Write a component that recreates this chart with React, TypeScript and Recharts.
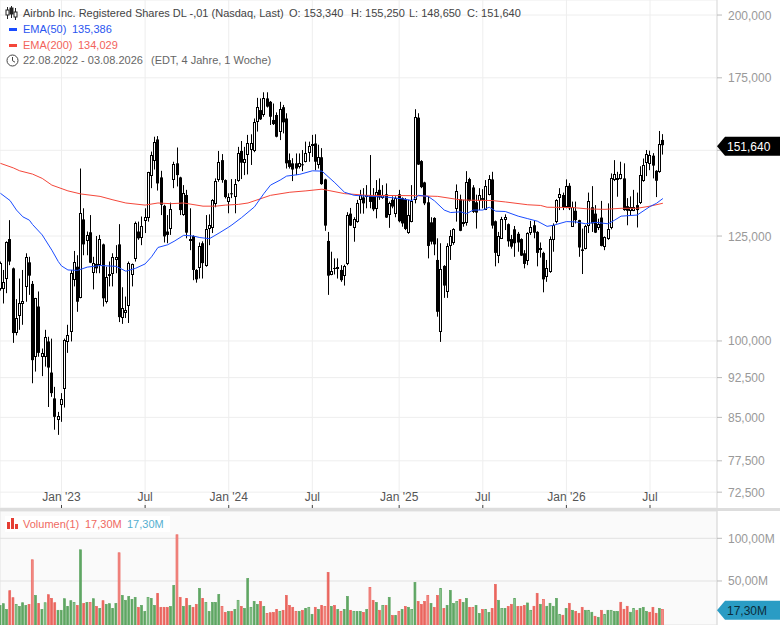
import { Bar, CartesianGrid, ComposedChart, Line, ReferenceDot, XAxis, YAxis } from "recharts";

const opens = [
  111.7, 111.7, 114.0, 124.2, 116.7, 101.7, 105.3, 108.3, 112.1, 118.2,
  112.9, 96.6, 107.6, 96.7, 96.7, 99.9, 93.5, 88.5, 84.6, 87.1,
  90.2, 99.7, 102.0, 114.0, 117.1, 109.7, 129.5, 123.6, 126.0, 115.5,
  117.8, 117.5, 122.8, 108.5, 115.1, 115.2, 118.9, 122.8, 105.0, 106.1,
  107.6, 114.9, 119.0, 126.2, 124.7, 128.9, 129.8, 141.8, 146.8, 153.5,
  141.6, 133.3, 126.2, 126.8, 140.8, 145.9, 141.6, 130.7, 136.4, 123.9,
  125.0, 116.3, 116.9, 123.1, 117.3, 127.0, 127.3, 133.9, 140.8, 146.9,
  140.8, 134.3, 136.9, 135.7, 140.6, 149.8, 145.9, 148.3, 149.9, 149.6,
  159.4, 163.4, 161.5, 167.5, 166.3, 160.0, 161.7, 155.9, 164.4, 160.5,
  146.9, 145.9, 145.9, 144.8, 145.6, 146.4, 149.0, 152.0, 152.2, 145.4,
  147.8, 141.0, 123.7, 115.2, 116.8, 116.5, 116.3, 114.9, 117.7, 131.1,
  127.1, 128.7, 135.0, 135.7, 135.7, 136.2, 136.0, 132.3, 137.9, 135.5,
  136.6, 130.6, 135.0, 131.1, 136.6, 135.5, 135.2, 125.7, 128.9, 135.0,
  160.8, 146.6, 140.1, 134.3, 128.7, 129.9, 118.8, 101.9, 117.3, 111.1,
  122.2, 123.1, 132.6, 135.2, 128.4, 128.7, 141.1, 138.6, 134.3, 134.7,
  135.5, 132.3, 136.4, 141.0, 129.0, 119.6, 124.4, 129.3, 128.2, 124.2,
  126.8, 125.6, 124.2, 120.5, 118.6, 125.9, 127.9, 126.1, 121.6, 120.6,
  114.5, 115.7, 124.0, 128.8, 135.6, 136.4, 132.9, 139.1, 127.5, 131.9,
  129.3, 121.5, 121.7, 127.7, 132.9, 131.1, 127.0, 130.0, 122.2, 124.2,
  127.0, 140.8, 141.0, 141.1, 141.3, 133.2, 131.9, 131.9, 133.5, 134.0,
  140.6, 146.0, 145.8, 148.3, 143.6, 143.2, 153.34,
];
const highs = [
  118.4, 116.3, 123.6, 129.3, 116.9, 109.3, 114.2, 116.3, 120.5, 119.6,
  113.6, 109.6, 111.1, 98.4, 102.4, 100.9, 100.5, 90.7, 86.0, 89.5,
  100.5, 103.5, 116.3, 121.1, 120.0, 144.3, 132.6, 126.2, 130.7, 119.6,
  125.0, 125.3, 123.0, 117.1, 118.4, 120.5, 122.6, 128.2, 112.1, 109.9,
  118.4, 117.9, 128.9, 128.9, 130.3, 132.6, 143.3, 149.6, 154.4, 154.6,
  143.6, 133.6, 130.7, 134.2, 146.4, 150.9, 141.8, 139.3, 137.9, 132.6,
  125.2, 116.5, 123.3, 123.6, 130.7, 130.9, 135.2, 141.3, 149.8, 148.8,
  141.0, 136.9, 141.1, 141.1, 151.1, 153.0, 151.1, 155.0, 155.2, 160.5,
  167.7, 167.5, 169.7, 169.7, 166.6, 165.7, 162.6, 166.3, 165.2, 162.3,
  149.0, 147.5, 149.0, 149.0, 150.1, 152.8, 152.8, 155.0, 155.2, 151.8,
  150.7, 141.2, 126.1, 120.9, 119.2, 119.2, 117.5, 117.6, 131.5, 132.7,
  130.1, 135.0, 137.9, 138.4, 139.3, 148.5, 138.4, 140.8, 141.3, 139.3,
  139.8, 134.5, 136.0, 136.0, 137.9, 135.7, 135.5, 135.0, 139.3, 163.7,
  162.3, 146.9, 140.3, 136.0, 130.1, 130.1, 124.4, 123.1, 117.5, 123.1,
  126.6, 127.1, 139.5, 136.5, 135.0, 143.5, 141.5, 139.3, 136.5, 138.4,
  138.1, 140.8, 142.3, 143.3, 129.2, 126.1, 130.2, 130.9, 128.4, 125.3,
  127.7, 126.1, 124.4, 121.3, 126.0, 129.1, 129.3, 126.3, 123.3, 120.9,
  118.8, 124.9, 128.4, 135.2, 138.4, 137.1, 141.0, 139.9, 134.5, 134.5,
  129.4, 127.0, 128.0, 137.1, 139.0, 133.5, 129.7, 134.7, 124.9, 134.0,
  142.8, 146.9, 143.3, 146.4, 145.9, 135.5, 136.0, 137.9, 137.1, 145.0,
  147.4, 150.1, 149.9, 149.1, 143.8, 156.3, 155.25,
];
const lows = [
  111.3, 108.3, 110.7, 117.5, 99.6, 101.2, 102.4, 103.5, 108.7, 110.3,
  91.4, 93.7, 96.7, 92.8, 94.7, 86.9, 88.8, 82.8, 81.9, 84.2,
  86.8, 97.5, 99.9, 112.3, 106.4, 109.5, 120.0, 120.0, 118.0, 111.6,
  115.5, 115.5, 107.6, 108.3, 112.3, 112.3, 115.5, 104.1, 103.7, 105.0,
  103.9, 112.3, 118.4, 124.0, 122.6, 125.8, 128.9, 138.4, 144.0, 137.7,
  130.7, 123.3, 123.1, 125.3, 138.4, 138.9, 130.7, 130.5, 124.4, 121.3,
  113.8, 113.2, 114.2, 114.2, 117.1, 122.6, 125.8, 132.9, 140.3, 140.0,
  135.4, 131.2, 135.5, 131.2, 140.3, 141.1, 142.3, 142.5, 145.4, 149.4,
  156.1, 160.0, 161.1, 164.3, 158.3, 158.3, 154.2, 153.3, 155.5, 144.3,
  144.3, 140.5, 142.3, 144.3, 143.5, 146.2, 146.4, 147.9, 143.8, 144.3,
  139.4, 126.4, 110.3, 115.0, 115.2, 114.2, 113.4, 112.5, 117.5, 127.7,
  123.5, 128.6, 131.1, 131.1, 132.6, 132.6, 131.8, 129.8, 135.0, 135.3,
  129.9, 127.2, 132.6, 130.1, 128.7, 127.5, 126.6, 125.6, 128.7, 134.0,
  145.4, 138.4, 133.5, 119.2, 122.8, 120.0, 105.3, 99.8, 109.6, 109.6,
  118.8, 122.7, 128.9, 126.3, 127.5, 127.8, 134.5, 131.3, 127.0, 132.1,
  132.6, 132.1, 136.3, 127.0, 117.2, 118.0, 124.2, 126.6, 122.2, 121.7,
  119.6, 120.9, 119.8, 116.7, 117.5, 125.3, 124.4, 117.2, 119.4, 110.9,
  113.4, 115.6, 120.9, 128.4, 132.1, 132.1, 132.6, 132.1, 127.5, 128.4,
  119.6, 115.3, 121.5, 125.8, 126.1, 125.8, 126.6, 122.3, 121.3, 124.0,
  126.8, 140.5, 135.9, 141.0, 131.9, 127.9, 130.7, 131.8, 127.3, 133.8,
  140.3, 142.0, 143.8, 141.3, 135.8, 143.0, 148.65,
];
const closes = [
  118.0, 113.4, 123.4, 118.4, 101.7, 105.0, 108.3, 108.9, 119.6, 114.9,
  96.0, 109.5, 97.5, 97.5, 100.8, 94.5, 89.5, 85.1, 85.3, 88.3,
  100.1, 101.2, 115.6, 118.4, 108.7, 131.4, 122.8, 125.3, 118.1, 118.0,
  116.7, 124.2, 109.5, 114.5, 115.2, 119.5, 119.6, 105.2, 107.2, 106.7,
  118.0, 117.7, 128.4, 124.4, 127.8, 130.1, 143.1, 148.4, 152.8, 139.8,
  133.6, 124.9, 125.3, 132.3, 145.6, 142.3, 132.1, 136.9, 125.9, 124.1,
  116.3, 114.0, 122.4, 118.0, 126.8, 128.1, 135.0, 140.6, 146.2, 140.8,
  135.8, 135.7, 136.8, 139.6, 149.2, 146.1, 147.2, 152.2, 152.2, 159.2,
  164.4, 160.2, 167.5, 164.6, 161.1, 158.6, 154.4, 163.6, 159.2, 145.9,
  144.8, 144.0, 144.3, 146.1, 145.5, 149.2, 151.3, 152.1, 146.4, 147.8,
  139.6, 127.8, 114.9, 116.1, 116.7, 117.1, 113.8, 117.4, 130.6, 127.8,
  129.5, 134.0, 136.4, 134.0, 136.3, 134.4, 132.3, 137.2, 135.7, 136.4,
  130.0, 134.0, 133.1, 135.5, 129.0, 128.4, 126.9, 130.6, 134.7, 160.9,
  145.5, 138.7, 134.0, 122.4, 123.5, 122.8, 106.4, 116.5, 112.5, 122.4,
  124.9, 126.9, 137.7, 126.4, 128.9, 140.3, 134.7, 131.6, 131.4, 136.3,
  135.0, 139.1, 141.0, 127.8, 120.6, 124.9, 129.7, 130.2, 123.6, 122.2,
  123.1, 123.3, 119.9, 117.8, 125.8, 127.5, 125.9, 120.6, 121.8, 114.0,
  116.7, 124.2, 128.1, 135.0, 136.7, 132.9, 139.1, 132.6, 132.9, 129.3,
  122.0, 121.1, 127.7, 134.8, 128.4, 125.9, 128.2, 122.4, 124.7, 127.0,
  141.3, 142.5, 141.3, 142.5, 132.1, 131.9, 133.1, 133.1, 132.1, 142.3,
  145.4, 148.8, 148.6, 145.2, 140.6, 151.9, 151.64,
];
const volumes = [
  22, 24, 17.3, 39.2, 31, 23.2, 20.8, 25.1, 22, 23.2,
  75.4, 33.7, 24.3, 17.3, 25.1, 34.5, 30.2, 25.1, 16.2, 16.2,
  29.8, 20.8, 27.5, 25.5, 22, 87.1, 24.3, 25.5, 25.5, 29.8,
  20.8, 18.5, 27.5, 23.2, 24, 18.5, 24.3, 83.6, 33.7, 27.9,
  32.5, 29, 31.4, 19.7, 22, 15, 31.4, 30.2, 22, 36,
  19.7, 19.7, 19.7, 20.8, 45.4, 104.7, 31.4, 20.8, 30.2, 22,
  19.7, 23.2, 41.9, 30.2, 25.5, 15, 25.5, 25.5, 34.9, 20.8,
  13.8, 15, 15, 17.3, 27.9, 20.8, 18.5, 53.6, 19.7, 26.7,
  23.2, 26.7, 20.8, 12.6, 13.4, 13.8, 17.3, 15, 16.2, 33.7,
  22, 19.7, 15, 15, 16.2, 18.5, 19.7, 11.5, 19.7, 17.3,
  22, 20.8, 60.6, 20.8, 22, 17.3, 15, 17.3, 32.5, 16.2,
  15, 15, 15, 13.8, 17.3, 43.1, 27.9, 25.5, 16.2, 22,
  22, 31.4, 10.3, 10.3, 15, 17.3, 20.8, 19.7, 17.3, 48.9,
  26.7, 23.2, 26.7, 33.7, 24.3, 19.7, 33.7, 41.9, 18.5, 22,
  39.6, 24.3, 26.7, 29, 25.5, 30.2, 19.7, 19.7, 22, 12.6,
  17.3, 17.3, 13.8, 18.5, 46.6, 27.9, 18.5, 18.5, 20.8, 23.2,
  30.2, 20.8, 20.9, 22, 24.8, 16.2, 20.9, 36.1, 23.2, 29,
  20.9, 24.4, 20.9, 30.2, 11.5, 10.4, 18.5, 24.4, 16.2, 15,
  12.7, 19.7, 16.2, 16.2, 13.9, 9.2, 8, 16.2, 11.5, 16.2,
  16.2, 15, 15, 25.6, 17.4, 20.9, 13.9, 18.5, 16.2, 18.5,
  19.7, 15, 13.9, 19.7, 12.7, 18.5, 17.3,
];
// u/d up or down week, capitals are the paler outlined bars
const volumeTones = [
  "u","u","u","d","d","U","u","u","u","d","D","u","d","u","U","d","d","d","u","u",
  "u","u","u","U","d","u","d","u","D","u","d","u","d","u","u","u","u","D","u","u",
  "u","u","u","d","u","u","U","u","u","d","d","d","d","u","u","D","d","u","d","u",
  "d","d","u","d","U","u","u","u","u","D","d","u","d","u","U","d","u","u","U","u",
  "u","d","u","D","d","d","d","U","d","d","d","d","D","u","d","u","U","u","d","u",
  "d","D","d","u","d","u","D","u","u","d","U","u","u","d","u","D","d","u","d","U",
  "d","u","d","u","D","u","d","u","U","u","d","d","d","D","u","d","d","U","d","u",
  "u","u","U","d","u","u","d","D","u","u","d","U","u","d","d","u","U","u","d","d",
  "U","d","d","d","u","U","d","d","u","D","u","u","u","u","U","d","u","d","u","d",
  "d","d","u","U","u","d","u","d","U","u","U","u","u","d","d","d","u","U","d","u",
  "u","u","d","d","d","u","D",
];

const ema50Points = [
  [0, 136.9], [3, 134.8], [5, 132.1], [7, 130.2], [9, 129.3], [10, 128.1], [13, 125.3], [16, 121.3], [18, 118.4],
  [19, 117.3], [21, 116.3], [24, 116.2], [27, 117.0], [31, 117.4], [36, 117.2], [39, 116.0], [42, 116.7], [45, 117.8],
  [47, 119.6], [49, 122.0], [52, 122.7], [54, 123.6], [57, 125.2], [60, 125.0], [62, 124.6], [65, 124.3], [68, 125.8],
  [71, 127.4], [72, 128.0], [75, 130.0], [79, 133.0], [82, 136.9], [84, 139.3], [87, 140.8], [89, 142.0], [93, 142.5],
  [97, 143.6], [100, 143.5], [104, 140.0], [107, 137.2], [110, 136.3], [115, 136.0], [120, 135.8], [125, 135.3],
  [128, 134.8], [130, 136.3], [133, 136.0], [135, 134.7], [138, 132.1], [140, 131.4], [143, 131.6], [145, 131.1],
  [147, 132.1], [150, 132.1], [152, 132.9], [154, 131.8], [157, 131.7], [161, 130.4], [164, 129.7], [167, 129.0],
  [170, 127.6], [172, 127.9], [176, 128.9], [179, 128.8], [182, 128.3], [185, 128.7], [189, 128.3], [191, 129.3],
  [193, 130.4], [198, 130.7], [202, 133.1], [204, 134.0], [206, 135.386],
];
const ema200Points = [
  [0, 145.9], [4, 144.5], [6, 143.6], [10, 142.6], [13, 141.3], [16, 139.3], [21, 137.6], [25, 136.7], [31, 136.0],
  [35, 135.0], [39, 134.1], [45, 133.5], [49, 134.1], [53, 133.9], [57, 134.1], [63, 133.2], [67, 133.2], [70, 133.5],
  [74, 133.7], [77, 134.1], [84, 136.3], [90, 137.2], [95, 137.6], [100, 138.1], [107, 136.8], [114, 136.3], [129, 136.2],
  [136, 136.0], [143, 135.0], [146, 134.9], [153, 134.8], [157, 134.4], [164, 133.6], [168, 133.4], [170, 132.9],
  [178, 132.8], [183, 132.4], [188, 132.3], [193, 132.6], [198, 132.6], [202, 133.2], [206, 134.029],
];

const priceTicks = [200, 175, 150, 125, 100, 92.5, 85, 77.5, 72.5];
const volumeTicks = [50, 100];
const monthWeeks = [19, 45, 71, 97, 124, 150, 176, 202];
const monthLabels = ["Jan '23", "Jul", "Jan '24", "Jul", "Jan '25", "Jul", "Jan '26", "Jul"];

const lastClose = 151.64;
const lastVolume = 17.3;
const VOLUME_FLOOR = -1.6;

const rows = opens.map((open, week) => ({
  week,
  wick: [lows[week], highs[week]],
  body: [Math.min(open, closes[week]), Math.max(open, closes[week])],
  up: closes[week] >= open,
  volume: [VOLUME_FLOOR, volumes[week]],
  tone: volumeTones[week],
}));
const ema50Rows = ema50Points.map(([week, value]) => ({ week, value }));
const ema200Rows = ema200Points.map(([week, value]) => ({ week, value }));

const FONT = "'Liberation Sans', Arial, sans-serif";
const PLOT_W = 717;
const X_DOMAIN = [-0.124, 222.83];

function Wick(props: any) {
  const { x, y, width, height } = props;
  const top = Math.min(y, y + height);
  return <rect x={Math.round(x + width / 2 - 0.5)} y={top} width={1} height={Math.max(Math.abs(height), 1)} fill="#000" />;
}

function Body(props: any) {
  const { x, y, width, height, payload } = props;
  const top = Math.min(y, y + height);
  const h = Math.max(Math.abs(height), 1);
  const left = Math.round(x + width / 2 - 1.5);
  if (payload.up) {
    return <rect x={left + 0.5} y={Math.round(top) + 0.5} width={2} height={Math.max(Math.round(h) - 1, 1)} fill="#fff" stroke="#000" strokeWidth={1} />;
  }
  return <rect x={left} y={top} width={3} height={h} fill="#000" />;
}

const toneStyles: Record<string, { fill: string; stroke: string }> = {
  u: { fill: "#5fa663", stroke: "#5fa663" },
  d: { fill: "#ea655e", stroke: "#ea655e" },
  U: { fill: "#8cc48f", stroke: "#5fa663" },
  D: { fill: "#f28d87", stroke: "#ea655e" },
};

function VolumeBar(props: any) {
  const { x, y, width, height, payload } = props;
  const tone = toneStyles[payload.tone];
  return <rect x={x + 0.35} y={y + 0.5} width={width - 0.7} height={Math.max(height, 0)} fill={tone.fill} stroke={tone.stroke} strokeWidth={0.7} />;
}

function MonthTick(props: any) {
  const { x, payload } = props;
  return (
    <g>
      <text x={x} y={501} textAnchor="middle" fontSize={12} fontFamily={FONT} fill="#555">
        {monthLabels[monthWeeks.indexOf(payload.value)]}
      </text>
      <line x1={x} x2={x} y1={505} y2={508} stroke="#444" />
    </g>
  );
}

function PriceTick(props: any) {
  const { x, y, payload } = props;
  if (payload.value === 150) return <g />;
  return (
    <text x={x} y={y + 4.5} fontSize={12} fontFamily={FONT} fill="#999">
      {payload.value.toFixed(3).replace(".", ",")}
    </text>
  );
}

function ValueTag({ cy, dy, fill, color, label }: any) {
  const mid = cy + dy;
  return (
    <g>
      <polygon points={`${PLOT_W},${mid} ${PLOT_W + 8},${mid - 9.5} 780,${mid - 9.5} 780,${mid + 9.5} ${PLOT_W + 8},${mid + 9.5}`} fill={fill} />
      <text x={PLOT_W + 10} y={mid + 4.5} fontSize={12} fontFamily={FONT} fill={color}>
        {label}
      </text>
    </g>
  );
}

const rowStyle = (top: number): any => ({
  position: "absolute",
  top,
  left: 0,
  height: 16,
  lineHeight: "16px",
  fontSize: 11,
  whiteSpace: "nowrap",
  fontFamily: FONT,
});
const at = (left: number, color: string): any => ({ position: "absolute", left, color });

function Legend() {
  return (
    <>
      <div style={rowStyle(5)}>
        <svg style={{ position: "absolute", left: 5, top: 1 }} width={13} height={14}>
          <path d="M2.5 1v12M6.5 0v12M10.5 2v12" stroke="#222" fill="none" />
          <rect x={1} y={4} width={3} height={5} fill="#fff" stroke="#222" />
          <rect x={5} y={2} width={3} height={6} fill="#222" stroke="#222" />
          <rect x={9} y={6} width={3} height={5} fill="#fff" stroke="#222" />
        </svg>
        <span style={at(23, "#444")}>Airbnb Inc. Registered Shares DL -,01 (Nasdaq, Last)</span>
        <span style={at(289, "#444")}>O: 153,340</span>
        <span style={at(351, "#444")}>H: 155,250</span>
        <span style={at(409, "#444")}>L: 148,650</span>
        <span style={at(467, "#444")}>C: 151,640</span>
      </div>
      <div style={rowStyle(21)}>
        <div style={{ position: "absolute", left: 9, top: 7, width: 8, height: 3, background: "#1a4cff" }} />
        <span style={at(23, "#2a55f0")}>EMA(50)</span>
        <span style={at(72, "#2a55f0")}>135,386</span>
      </div>
      <div style={rowStyle(37)}>
        <div style={{ position: "absolute", left: 9, top: 7, width: 8, height: 3, background: "#f4473a" }} />
        <span style={at(23, "#f2635a")}>EMA(200)</span>
        <span style={at(78, "#f2635a")}>134,029</span>
      </div>
      <div style={rowStyle(52)}>
        <svg style={{ position: "absolute", left: 6, top: 2 }} width={13} height={13}>
          <circle cx={6.5} cy={6.5} r={5.5} stroke="#444" fill="none" />
          <path d="M6.5 3v3.7l2.5 1.5" stroke="#444" fill="none" />
        </svg>
        <span style={at(23, "#666")}>22.08.2022 - 03.08.2026</span>
        <span style={at(151, "#666")}>(EDT, 4 Jahre, 1 Woche)</span>
      </div>
      <div style={{ position: "absolute", left: 5, top: 516, width: 165, height: 16, background: "#fff" }} />
      <div style={rowStyle(516)}>
        <svg style={{ position: "absolute", left: 7, top: 2 }} width={12} height={11}>
          <rect x={0} y={4} width={3} height={7} fill="#e53d33" />
          <rect x={4} y={0} width={3} height={11} fill="#e53d33" />
          <rect x={8} y={6} width={3} height={5} fill="#e53d33" />
        </svg>
        <span style={at(23, "#ef6a62")}>Volumen(1)</span>
        <span style={at(85, "#ef6a62")}>17,30M</span>
        <span style={at(127, "#55afd0")}>17,30M</span>
      </div>
    </>
  );
}

export default function App() {
  return (
    <div style={{ position: "absolute", left: 0, top: 0, width: 780, height: 625, overflow: "hidden", background: "#fff" }}>
      <div style={{ position: "absolute", left: 0, top: 0 }}>
        <ComposedChart width={780} height={509} data={rows} margin={{ top: 0, right: 0, bottom: 0, left: 0 }} barGap={-3}>
          <CartesianGrid stroke="#eeeeee" />
          <XAxis
            dataKey="week"
            type="number"
            domain={X_DOMAIN}
            allowDataOverflow
            ticks={monthWeeks}
            interval={0}
            height={1}
            axisLine={false}
            tickLine={false}
            tick={(p: any) => <MonthTick {...p} />}
          />
          <YAxis
            orientation="right"
            width={63}
            scale="log"
            domain={[70.1, 206.5]}
            allowDataOverflow
            ticks={priceTicks}
            interval={0}
            tickSize={5}
            tickMargin={6}
            stroke="#dddddd"
            tickLine={{ stroke: "#bbbbbb" }}
            tick={(p: any) => <PriceTick {...p} />}
          />
          <Bar dataKey="wick" barSize={3} shape={<Wick />} isAnimationActive={false} />
          <Bar dataKey="body" barSize={3} shape={<Body />} isAnimationActive={false} />
          <Line data={ema200Rows} dataKey="value" stroke="#f4473a" strokeWidth={1} dot={false} activeDot={false} isAnimationActive={false} />
          <Line data={ema50Rows} dataKey="value" stroke="#1a4cff" strokeWidth={1} dot={false} activeDot={false} isAnimationActive={false} />
          <ReferenceDot
            x={206}
            y={lastClose}
            r={0}
            ifOverflow="visible"
            shape={(p: any) => <ValueTag cy={p.cy} dy={1} fill="#000" color="#fff" label="151,640" />}
          />
        </ComposedChart>
      </div>
      <div style={{ position: "absolute", left: 0, top: 508, width: 780, height: 3, background: "#dddddd" }} />
      <div style={{ position: "absolute", left: 0, top: 511, width: PLOT_W, height: 114, background: "#fafafa" }} />
      <div style={{ position: "absolute", left: 0, top: 511 }}>
        <ComposedChart width={780} height={114} data={rows} margin={{ top: 0, right: 0, bottom: 0, left: 0 }}>
          <CartesianGrid stroke="#e2e2e2" />
          <XAxis
            dataKey="week"
            type="number"
            domain={X_DOMAIN}
            allowDataOverflow
            ticks={monthWeeks}
            interval={0}
            height={0}
            axisLine={false}
            tickLine={false}
            tick={false}
          />
          <YAxis
            orientation="right"
            width={63}
            domain={[VOLUME_FLOOR, 132]}
            allowDataOverflow
            ticks={volumeTicks}
            interval={0}
            tickSize={5}
            tickMargin={6}
            stroke="#dddddd"
            tickLine={{ stroke: "#bbbbbb" }}
            tick={{ fontSize: 12, fontFamily: FONT, fill: "#999", textAnchor: "start" }}
            tickFormatter={(v: number) => `${v},00M`}
          />
          <Bar dataKey="volume" barSize={2.6} shape={<VolumeBar />} isAnimationActive={false} />
          <ReferenceDot
            x={206}
            y={lastVolume}
            r={0}
            ifOverflow="visible"
            shape={(p: any) => <ValueTag cy={p.cy} dy={1.5} fill="#2a9cc4" color="#0d2d3a" label="17,30M" />}
          />
        </ComposedChart>
      </div>
      <Legend />
    </div>
  );
}
